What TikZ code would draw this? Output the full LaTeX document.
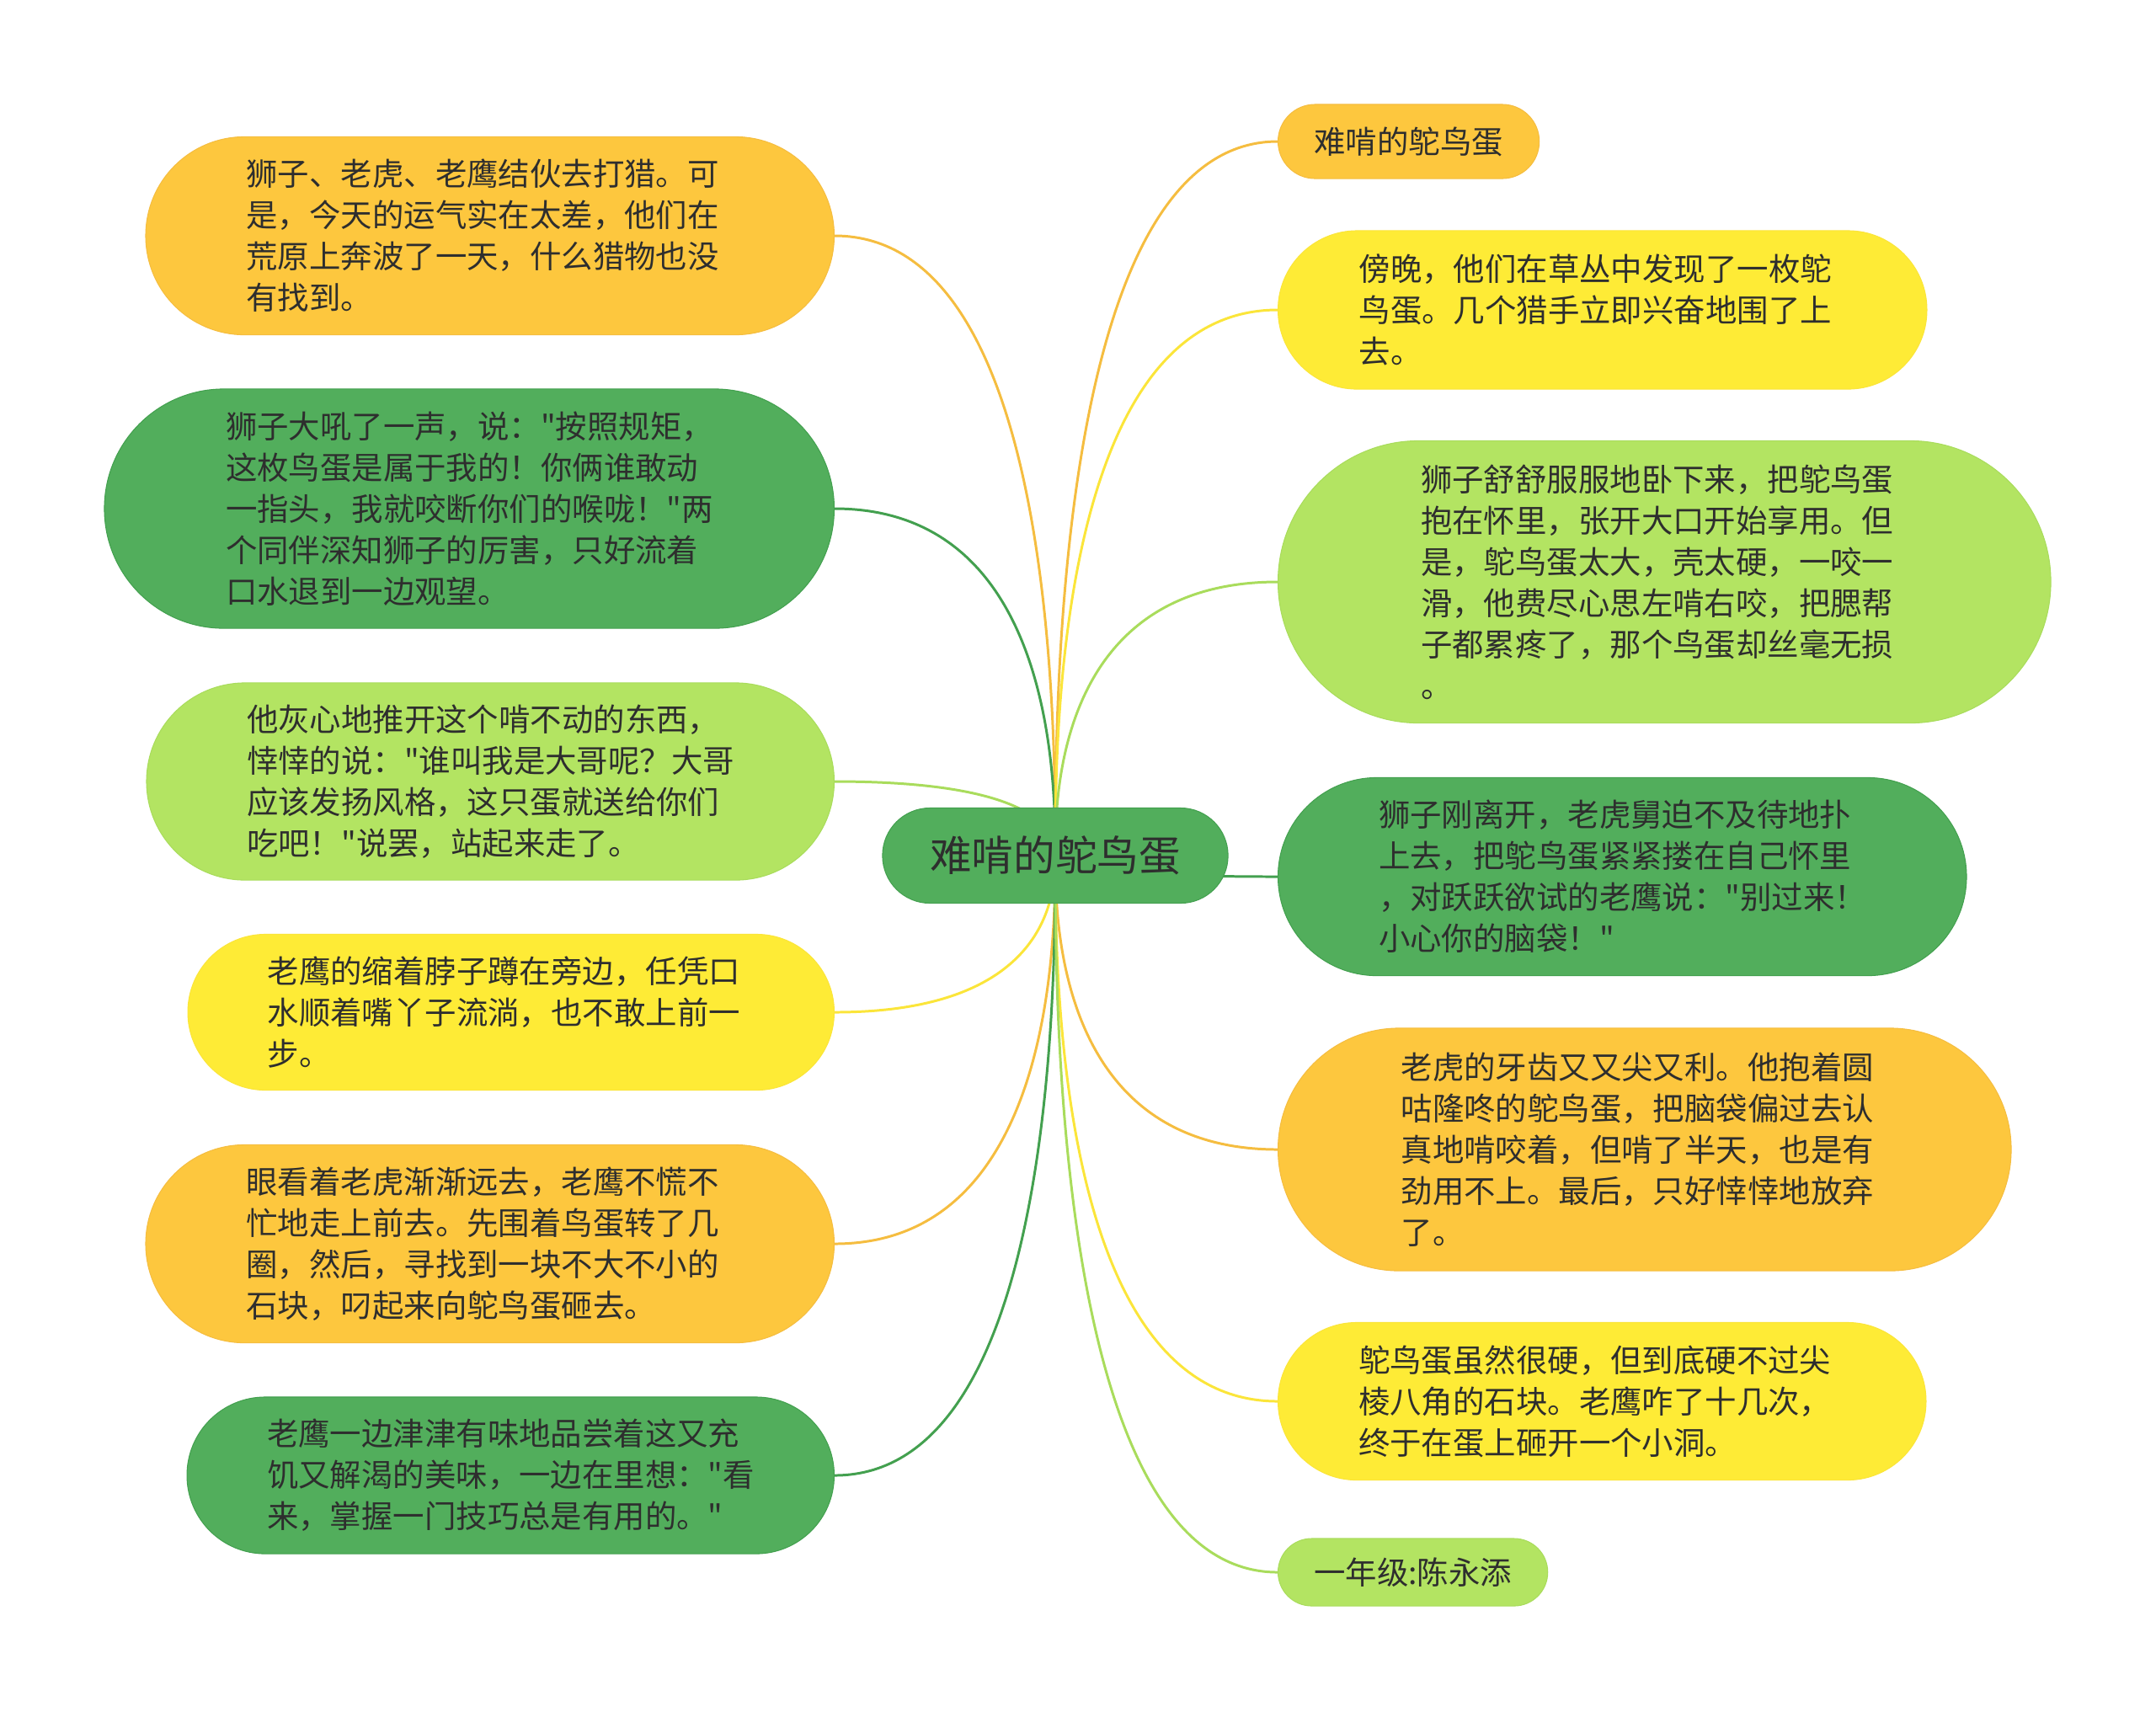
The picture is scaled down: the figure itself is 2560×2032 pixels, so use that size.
\documentclass[tikz,border=0pt]{standalone}
\usepackage{fontspec}
\newfontfamily\cjk{Noto Sans CJK SC}
\usetikzlibrary{calc,backgrounds}

\definecolor{orangefill}{HTML}{FDC73E}
\definecolor{greenfill}{HTML}{52AE5C}
\definecolor{limefill}{HTML}{B3E462}
\definecolor{yellowfill}{HTML}{FEEB36}
\definecolor{orangeline}{HTML}{F5BD40}
\definecolor{greenline}{HTML}{43A04F}
\definecolor{limeline}{HTML}{A9DC5C}
\definecolor{yellowline}{HTML}{FBE53A}
\definecolor{txt}{HTML}{2E2E2E}

\tikzset{
  bubble/.style={rectangle, inner xsep=0.02cm, inner ysep=0pt,
    text=txt, font=\cjk\fontsize{10.64pt}{13.94pt}\selectfont, align=left},
  longbubble/.style={bubble, text width=5.78cm, minimum height=#1,
    minimum width={5.82cm+#1}, rounded corners={0.499*#1}},
  shortbubble/.style 2 args={bubble, inner xsep=0pt, minimum height=#1,
    minimum width=#2, rounded corners={0.499*#1}},
  orangenode/.style={fill=orangefill, draw=orangeline, line width=0.3pt},
  greennode/.style={fill=greenfill, draw=greenline, line width=0.3pt},
  limenode/.style={fill=limefill, draw=limeline, line width=0.3pt},
  yellownode/.style={fill=yellowfill, draw=yellowline, line width=0.3pt},
  link/.style={line width=0.85pt},
}

\begin{document}
\begin{tikzpicture}[x=0.01cm,y=-0.01cm]
    \useasboundingbox (0,0) rectangle (2560,2032);
    % centre
    \node[shortbubble={1.13cm}{4.1cm}, greennode,
      font=\cjk\fontsize{14.1pt}{17pt}\selectfont] (root) at (1253,1016) {难啃的鸵鸟蛋};
    % left side
    \node[longbubble=2.35cm, orangenode, anchor=east] (l1) at (991,280)
      {狮子、老虎、老鹰结伙去打猎。可\\是，今天的运气实在太差，他们在\\荒原上奔波了一天，什么猎物也没\\有找到。};
    \node[longbubble=2.84cm, greennode, anchor=east] (l2) at (991,604)
      {狮子大吼了一声，说："按照规矩，\\这枚鸟蛋是属于我的！你俩谁敢动\\一指头，我就咬断你们的喉咙！"两\\个同伴深知狮子的厉害，只好流着\\口水退到一边观望。};
    \node[longbubble=2.34cm, limenode, anchor=east] (l3) at (991,928)
      {他灰心地推开这个啃不动的东西，\\悻悻的说："谁叫我是大哥呢？大哥\\应该发扬风格，这只蛋就送给你们\\吃吧！"说罢，站起来走了。};
    \node[longbubble=1.85cm, yellownode, anchor=east] (l4) at (991,1202)
      {老鹰的缩着脖子蹲在旁边，任凭口\\水顺着嘴丫子流淌，也不敢上前一\\步。};
    \node[longbubble=2.35cm, orangenode, anchor=east] (l5) at (991,1477)
      {眼看着老虎渐渐远去，老鹰不慌不\\忙地走上前去。先围着鸟蛋转了几\\圈，然后，寻找到一块不大不小的\\石块，叼起来向鸵鸟蛋砸去。};
    \node[longbubble=1.86cm, greennode, anchor=east] (l6) at (991,1752)
      {老鹰一边津津有味地品尝着这又充\\饥又解渴的美味，一边在里想："看\\来，掌握一门技巧总是有用的。"};
    % right side
    \node[shortbubble={0.88cm}{3.1cm}, orangenode, anchor=west] (r1) at (1517,168)
      {难啃的鸵鸟蛋};
    \node[longbubble=1.88cm, yellownode, anchor=west] (r2) at (1517,368)
      {傍晚，他们在草丛中发现了一枚鸵\\鸟蛋。几个猎手立即兴奋地围了上\\去。};
    \node[longbubble=3.35cm, limenode, anchor=west] (r3) at (1517,691)
      {狮子舒舒服服地卧下来，把鸵鸟蛋\\抱在怀里，张开大口开始享用。但\\是，鸵鸟蛋太大，壳太硬，一咬一\\滑，他费尽心思左啃右咬，把腮帮\\子都累疼了，那个鸟蛋却丝毫无损\\。};
    \node[longbubble=2.35cm, greennode, anchor=west] (r4) at (1517,1041)
      {狮子刚离开，老虎舅迫不及待地扑\\上去，把鸵鸟蛋紧紧搂在自己怀里\\，对跃跃欲试的老鹰说："别过来！\\小心你的脑袋！"};
    \node[longbubble=2.88cm, orangenode, anchor=west] (r5) at (1517,1365)
      {老虎的牙齿又又尖又利。他抱着圆\\咕隆咚的鸵鸟蛋，把脑袋偏过去认\\真地啃咬着，但啃了半天，也是有\\劲用不上。最后，只好悻悻地放弃\\了。};
    \node[longbubble=1.87cm, yellownode, anchor=west] (r6) at (1517,1664)
      {鸵鸟蛋虽然很硬，但到底硬不过尖\\棱八角的石块。老鹰咋了十几次，\\终于在蛋上砸开一个小洞。};
    \node[shortbubble={0.8cm}{3.2cm}, limenode, anchor=west] (r7) at (1517,1867)
      {一年级:陈永添};
    % connectors
    \begin{pgfonlayer}{background}
    \foreach \n/\a/\c in {l1/east/orangeline, l2/east/greenline, l3/east/limeline,
        l4/east/yellowline, l5/east/orangeline, l6/east/greenline,
        r1/west/orangeline, r2/west/yellowline, r3/west/limeline, r4/west/greenline,
        r5/west/orangeline, r6/west/yellowline, r7/west/limeline}
        {\draw[link, \c] (root.center) .. controls ($(\n.\a -| root.center)!0.8!(root.center)$)
          and (\n.\a -| root.center) .. (\n.\a);
        }
    \end{pgfonlayer}
\end{tikzpicture}
\end{document}
